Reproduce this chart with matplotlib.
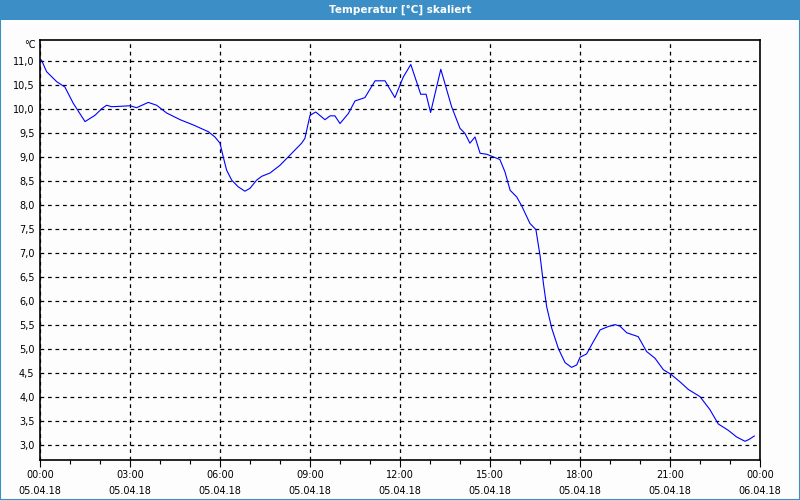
import matplotlib.pyplot as plt
from matplotlib.patches import Rectangle
import numpy as np

# hours since 05.04.18 00:00 and temperature in degC
hours = [0.05, 0.22, 0.56, 0.83, 1.11, 1.5, 1.83, 2.06, 2.22, 2.39, 2.72, 3.0, 3.22, 3.61, 3.89,
         4.22, 4.67, 5.11, 5.61, 5.83, 6.0, 6.11, 6.22, 6.39, 6.61, 6.83, 7.0, 7.22, 7.39, 7.67,
         8.0, 8.33, 8.72, 8.83, 9.0, 9.19, 9.5, 9.67, 9.83, 10.0, 10.28, 10.5, 10.83, 11.17, 11.5,
         11.83, 12.11, 12.36, 12.69, 12.87, 13.02, 13.36, 13.72, 14.0, 14.17, 14.33, 14.5, 14.67,
         14.89, 15.33, 15.5, 15.67, 15.89, 16.06, 16.33, 16.53, 16.67, 16.78, 16.89, 17.06, 17.28,
         17.5, 17.72, 17.89, 18.0, 18.22, 18.44, 18.67, 18.94, 19.17, 19.33, 19.56, 19.94, 20.22,
         20.5, 20.78, 21.02, 21.33, 21.61, 22.0, 22.33, 22.61, 22.94, 23.22, 23.5, 23.64, 23.81]
temp = [11.02, 10.78, 10.57, 10.46, 10.12, 9.74, 9.87, 10.01, 10.08, 10.05, 10.06, 10.07, 10.03,
        10.14, 10.08, 9.92, 9.78, 9.67, 9.53, 9.42, 9.29, 9.0, 8.73, 8.52, 8.38, 8.29, 8.35, 8.52,
        8.6, 8.67, 8.83, 9.04, 9.29, 9.39, 9.87, 9.94, 9.78, 9.86, 9.86, 9.7, 9.91, 10.17, 10.24,
        10.59, 10.59, 10.24, 10.67, 10.93, 10.31, 10.31, 9.93, 10.83, 10.05, 9.6, 9.49, 9.29, 9.42,
        9.08, 9.06, 8.95, 8.69, 8.31, 8.17, 7.98, 7.62, 7.49, 6.94, 6.37, 5.88, 5.43, 5.01, 4.72,
        4.62, 4.67, 4.83, 4.9, 5.15, 5.4, 5.47, 5.51, 5.48, 5.34, 5.26, 4.95, 4.81, 4.57, 4.48,
        4.32, 4.16, 4.01, 3.74, 3.44, 3.31, 3.17, 3.08, 3.12, 3.19]

xticks = [0, 3, 6, 9, 12, 15, 18, 21, 24]
xlabels = ["00:00\n05.04.18", "03:00\n05.04.18", "06:00\n05.04.18", "09:00\n05.04.18",
           "12:00\n05.04.18", "15:00\n05.04.18", "18:00\n05.04.18", "21:00\n05.04.18",
           "00:00\n06.04.18"]
yticks = np.arange(3.0, 11.01, 0.5)

bg = "#fcfdfc"
blue = "#3c8fc6"

fig = plt.figure(figsize=(8, 5), dpi=100, facecolor=bg)
# window frame + title bar
fig.patches.append(Rectangle((0, 0), 1, 1, transform=fig.transFigure, fill=False,
                             edgecolor=blue, lw=1.5))
fig.patches.append(Rectangle((0, 0.96), 1, 0.04, transform=fig.transFigure,
                             facecolor=blue, edgecolor="none"))
fig.text(0.5, 0.98, "Temperatur [°C] skaliert", color="white", fontsize=7.5,
         fontweight="bold", ha="center", va="center")

ax = fig.add_axes([0.05, 0.08, 0.90, 0.84], facecolor=bg)
ax.plot(hours, temp, color="#0000ff", lw=0.8)

ax.set_xlim(0, 24)
ax.set_ylim(2.69, 11.44)
ax.set_xticks(xticks)
ax.set_xticklabels(xlabels, fontsize=7, linespacing=1.75)
ax.set_xticks(np.arange(0, 25, 1), minor=True)
ax.set_yticks(yticks)
ax.set_yticklabels([f"{v:.1f}".replace(".", ",") for v in yticks], fontsize=7)
ax.tick_params(axis="x", which="major", length=5, width=0.8, pad=2)
ax.tick_params(axis="x", which="minor", length=3, width=0.8)
ax.tick_params(axis="y", length=0, pad=4)
ax.grid(True, which="major", color="black", linestyle=(0, (3, 3)), lw=0.9)
for s in ax.spines.values():
    s.set_linewidth(1.2)

fig.text(0.044, 0.91, "°C", fontsize=7, ha="right", va="center")

fig.savefig("out.png", dpi=100, facecolor=bg)
